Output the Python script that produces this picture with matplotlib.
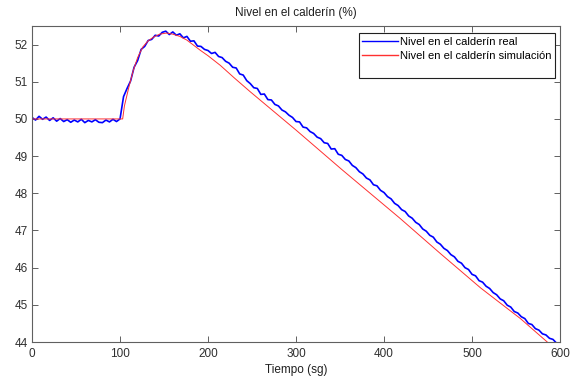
import matplotlib
matplotlib.use("Agg")
import matplotlib.pyplot as plt
import numpy as np

# data
# real boiler level, one sample every 4 s from 0 to 600 s
blue_y = [
    50.04, 49.97, 50.07, 49.99, 50.05, 49.96, 50.03, 49.94, 50.01, 49.93,   # 0-36
    49.98, 49.91, 49.97, 49.92, 49.99, 49.90, 49.96, 49.92, 49.98, 49.91,   # 40-76
    49.90, 49.97, 49.92, 49.99, 49.93, 50.00, 50.60, 50.82, 51.02, 51.39,   # 80-116
    51.57, 51.87, 51.95, 52.11, 52.14, 52.25, 52.23, 52.33, 52.36, 52.27,   # 120-156
    52.34, 52.25, 52.29, 52.18, 52.22, 52.09, 52.10, 51.96, 51.95, 51.87,   # 160-196
    51.84, 51.76, 51.79, 51.68, 51.65, 51.55, 51.50, 51.39, 51.37, 51.21,   # 200-236
    51.18, 51.03, 50.95, 50.84, 50.82, 50.66, 50.67, 50.52, 50.51, 50.39,   # 240-276
    50.35, 50.24, 50.19, 50.10, 50.04, 49.93, 49.92, 49.78, 49.76, 49.66,   # 280-316
    49.61, 49.51, 49.47, 49.36, 49.34, 49.19, 49.20, 49.05, 49.02, 48.91,   # 320-356
    48.87, 48.75, 48.69, 48.58, 48.52, 48.41, 48.36, 48.23, 48.20, 48.08,   # 360-396
    48.02, 47.91, 47.85, 47.73, 47.67, 47.56, 47.51, 47.39, 47.33, 47.22,   # 400-436
    47.16, 47.04, 46.98, 46.87, 46.82, 46.69, 46.63, 46.52, 46.46, 46.35,   # 440-476
    46.29, 46.17, 46.12, 46.00, 45.95, 45.82, 45.78, 45.65, 45.61, 45.50,   # 480-516
    45.44, 45.33, 45.27, 45.16, 45.11, 44.99, 44.94, 44.82, 44.78, 44.68,   # 520-556
    44.63, 44.50, 44.47, 44.36, 44.32, 44.22, 44.19, 44.10, 44.07, 43.97,   # 560-596
    43.93,                                                                  # 600
]
blue_t = np.arange(len(blue_y)) * 4

# simulated level
red_t = [0, 103, 105, 110, 115, 120, 126, 132, 138, 145, 153, 160, 168, 176,
         191, 200, 214, 230, 248, 300, 352, 418, 464, 510, 555, 600]
red_y = [50.0, 50.0, 50.35, 50.85, 51.3, 51.65, 51.94, 52.1, 52.2, 52.28, 52.31,
         52.28, 52.22, 52.12, 51.85, 51.7, 51.44, 51.1, 50.73, 49.7, 48.64,
         47.33, 46.38, 45.45, 44.63, 43.7]

x_ticks = [0, 100, 200, 300, 400, 500, 600]
y_ticks = [44, 45, 46, 47, 48, 49, 50, 51, 52]

plt.rcParams['font.family'] = ['Liberation Sans', 'DejaVu Sans']
plt.rcParams['font.size'] = 8.5

fig = plt.figure(figsize=(5.78, 3.76), dpi=100)
ax = fig.add_axes([0.0554, 0.0904, 0.9135, 0.8405])

ax.plot(blue_t, blue_y, color='#0000ff', lw=1.2, label='Nivel en el calderín real')
ax.plot(red_t, red_y, color='#ff3030', lw=0.7, label='Nivel en el calderín simulación')
# blank entry, the legend box in the original has empty room below
ax.plot([], [], color='none', label=' ')

ax.set_xlim(0, 600)
ax.set_ylim(44, 52.5)
ax.set_xticks(x_ticks)
ax.set_yticks(y_ticks)

for s in ax.spines.values():
    s.set_color('#606060')
    s.set_linewidth(0.8)
ax.tick_params(direction='in', length=4, width=0.7, color='#606060',
               top=True, right=True, labelcolor='#303030', pad=3)
ax.tick_params(axis='x', pad=4)

ax.set_title('Nivel en el calderín (%)', fontsize=8.5, color='#202020', pad=7)
ax.set_xlabel('Tiempo (sg)', fontsize=8.5, color='#202020', labelpad=3)

leg = ax.legend(loc='upper right', bbox_to_anchor=(0.9905, 0.978),
                borderaxespad=0, fancybox=False, handlelength=3.2,
                handletextpad=0.15, labelspacing=0.35, borderpad=0.35,
                framealpha=1, fontsize=8)
leg.get_frame().set_edgecolor('#202020')
leg.get_frame().set_linewidth(0.8)
for h in leg.get_lines()[:2]:
    h.set_linewidth(1.0)

fig.savefig('out.png', dpi=100)
